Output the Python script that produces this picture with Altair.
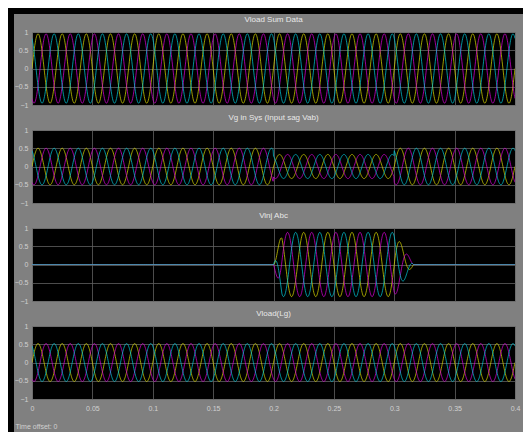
import numpy as np
import pandas as pd
import altair as alt

# ---- values ----
titles = ["Vload Sum Data", "Vg in Sys (Input sag Vab)", "Vinj Abc", "Vload(Lg)"]
phase_names = ["a", "b", "c"]
phase_deg = [0, -120, 120]
colors = ["#d8d800", "#d800d8", "#00c8d8"]
freq_hz = 50
t_end = 0.4
x_ticks = [0, 0.05, 0.1, 0.15, 0.2, 0.25, 0.3, 0.35, 0.4]
y_ticks = [-1, -0.5, 0, 0.5, 1]
# amplitude envelope breakpoints (time, amplitude) per panel
env_t = [
    [0, 0.4],
    [0, 0.2, 0.2, 0.3, 0.3, 0.4],
    [0, 0.2, 0.207, 0.3, 0.316, 0.4],
    [0, 0.4],
]
env_a = [
    [0.95, 0.95],
    [0.5, 0.5, 0.33, 0.33, 0.5, 0.5],
    [0.0, 0.0, 0.88, 0.88, 0.0, 0.0],
    [0.52, 0.52],
]

t = np.linspace(0, t_end, 1201)
rows = []
for p in range(4):
    env = np.interp(t, env_t[p], env_a[p])
    for name, deg in zip(phase_names, phase_deg):
        v = env * np.sin(2 * np.pi * freq_hz * t + np.deg2rad(deg))
        rows.append(pd.DataFrame({"panel": p, "phase": name, "t": t, "v": v}))
df = pd.concat(rows, ignore_index=True)

FONT = "Liberation Sans"
LBL = "#d0d0d0"
GRID = "#606060"
W, H = 483, 73
SP = 25

one = pd.DataFrame({"k": [0]})


def panel(i):
    last = i == 3
    xaxis = dict(values=x_ticks, labels=last, ticks=False, domain=False, grid=True,
                 gridColor=GRID, gridWidth=0.8, labelFontSize=7, labelColor=LBL,
                 labelFont=FONT, labelPadding=5, format="~g", labelFlush=False)
    if last:
        xaxis.update(title="Time offset:  0", titleAnchor="start", titleAlign="left",
                     titleX=-17, titleY=27, titleBaseline="middle", titleFontSize=7,
                     titleFontWeight="normal", titleColor=LBL, titleFont=FONT)
    else:
        xaxis.update(title="")
    lines = alt.Chart(df[df.panel == i]).mark_line(
        strokeWidth=0.9, clip=True, opacity=0.8
    ).encode(
        x=alt.X("t:Q", scale=alt.Scale(domain=[0, t_end], nice=False, zero=False),
                axis=alt.Axis(**xaxis)),
        y=alt.Y("v:Q", scale=alt.Scale(domain=[-1, 1], nice=False),
                axis=alt.Axis(values=y_ticks, ticks=False, domain=False, grid=True,
                              gridColor=GRID, gridWidth=0.8, labelFontSize=7,
                              labelColor=LBL, labelFont=FONT, labelPadding=4,
                              format="~g", title="", labelFlush=False)),
        color=alt.Color("phase:N", scale=alt.Scale(domain=phase_names, range=colors),
                        legend=None),
        order="t:Q",
    )
    return lines.properties(
        width=W, height=H,
        title=alt.TitleParams(titles[i], fontSize=8, font=FONT, color="#e8e8e8",
                              fontWeight="normal", offset=4, anchor="middle"),
    )


# black figure frame (left and top edges), drawn from an empty helper view below the panels
frame_top = 4 * (H + SP)  # helper origin offset from the first plot's top
frame = alt.layer(
    alt.Chart(one).mark_rect(color="black").encode(
        x=alt.value(-24), x2=alt.value(-18), y=alt.value(-frame_top - 24), y2=alt.value(8)),
    alt.Chart(one).mark_rect(color="black").encode(
        x=alt.value(-24), x2=alt.value(491), y=alt.value(-frame_top - 24),
        y2=alt.value(-frame_top - 18)),
).properties(width=W, height=1,
             view=alt.ViewBackground(fillOpacity=0, strokeOpacity=0))

chart = alt.vconcat(*[panel(i) for i in range(4)], frame, spacing=SP, bounds="flush").properties(
    background="#808080",
    padding={"left": 0, "top": 0, "right": 0, "bottom": 0},
).configure_view(fill="black", stroke="#a0a0a0", strokeWidth=1)

chart.save("out.html", embed_options={"renderer": "svg", "actions": False})
